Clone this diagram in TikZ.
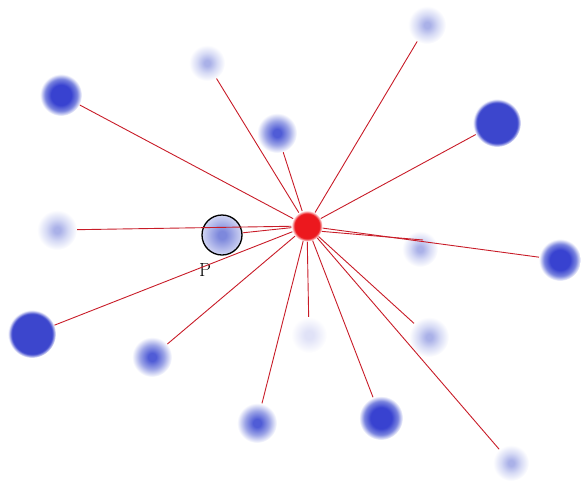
\documentclass[tikz,border=0pt]{standalone}
\definecolor{faintc}{RGB}{170,177,232}
\definecolor{faintoc}{RGB}{215,219,245}
\definecolor{vfaintc}{RGB}{224,226,247}
\definecolor{midc}{RGB}{80,92,214}
\definecolor{midoc}{RGB}{155,163,230}
\definecolor{strongc}{RGB}{56,66,208}
\definecolor{strongoc}{RGB}{120,130,222}
\definecolor{solidc}{RGB}{60,70,205}
\definecolor{redc}{RGB}{236,24,30}
\definecolor{linec}{RGB}{200,28,40}
\definecolor{pin}{RGB}{125,136,220}
\definecolor{pout}{RGB}{210,214,243}
\pgfdeclareradialshading{fzvfaint}{\pgfpoint{0bp}{0bp}}{color(0bp)=(vfaintc); color(6bp)=(vfaintc); color(25bp)=(white); color(50bp)=(white)}
\pgfdeclareradialshading{fzfaint}{\pgfpoint{0bp}{0bp}}{color(0bp)=(faintc); color(4bp)=(faintc); color(14bp)=(faintoc); color(25bp)=(white); color(50bp)=(white)}
\pgfdeclareradialshading{fzmid}{\pgfpoint{0bp}{0bp}}{color(0bp)=(midc); color(5bp)=(midc); color(15bp)=(midoc); color(25bp)=(white); color(50bp)=(white)}
\pgfdeclareradialshading{fzstrong}{\pgfpoint{0bp}{0bp}}{color(0bp)=(strongc); color(12bp)=(strongc); color(19bp)=(strongoc); color(25bp)=(white); color(50bp)=(white)}
\pgfdeclareradialshading{fzsolid}{\pgfpoint{0bp}{0bp}}{color(0bp)=(solidc); color(21bp)=(solidc); color(25bp)=(white); color(50bp)=(white)}
\pgfdeclareradialshading{fzred}{\pgfpoint{0bp}{0bp}}{color(0bp)=(redc); color(20bp)=(redc); color(25bp)=(white); color(50bp)=(white)}
\pgfdeclareradialshading{fzp}{\pgfpoint{0bp}{0bp}}{color(0bp)=(pin); color(5bp)=(pin); color(25bp)=(pout); color(50bp)=(pout)}
\begin{document}
\begin{tikzpicture}[x=1pt,y=-1pt,
  dot/.style 2 args={circle, inner sep=0pt, minimum size=#1, shade, shading=#2, draw=none},
  ray/.style={draw=linec, line width=0.9pt}]
\useasboundingbox (0,0) rectangle (581,485);
% outer dots
\node[dot={38}{fzfaint}]  (n1)  at (427,25)  {};
\node[dot={48}{fzsolid}]  (n2)  at (497,123) {};
\node[dot={42}{fzstrong}] (n3)  at (560,260) {};
\node[dot={36}{fzfaint}]  (n4)  at (420,249) {};
\node[dot={40}{fzfaint}]  (n5)  at (429,337) {};
\node[dot={36}{fzfaint}]  (n6)  at (511,463) {};
\node[dot={44}{fzstrong}] (n7)  at (381,418) {};
\node[dot={36}{fzvfaint}] (n8)  at (309,335) {};
\node[dot={40}{fzmid}]    (n9)  at (257,423) {};
\node[dot={40}{fzmid}]    (n10) at (152,357) {};
\node[dot={48}{fzsolid}]  (n11) at (32,334)  {};
\node[dot={40}{fzfaint}]  (n12) at (57,230)  {};
\node[dot={42}{fzstrong}] (n14) at (61,95)   {};
\node[dot={36}{fzfaint}]  (n15) at (207,63)  {};
\node[dot={40}{fzmid}]    (n16) at (277,133) {};
% P
\node[dot={40}{fzp}, draw=black, line width=1.3pt] (p) at (222,235) {};
\node[font=\fontsize{19}{19}\selectfont, inner sep=0pt] (plabel) at (205,270) {P};
% centre
\node[dot={31}{fzred}] (c) at (307,226) {};
\coordinate (m) at (423,240);
% rays
\draw[ray] (c) -- (n1);
\draw[ray] (c) -- (n2);
\draw[ray] (c) -- (n3);
\draw[ray] (c.-20) -- (m);
\draw[ray] (c) -- (n5);
\draw[ray] (c) -- (n6);
\draw[ray] (c) -- (n7);
\draw[ray] (c) -- (n8);
\draw[ray] (c) -- (n9);
\draw[ray] (c) -- (n10);
\draw[ray] (c) -- (n11);
\draw[ray] (c) -- (n12);
\draw[ray] (c) -- (p);
\draw[ray] (c) -- (n14);
\draw[ray] (c) -- (n15);
\draw[ray] (c) -- (n16);
\end{tikzpicture}
\end{document}
